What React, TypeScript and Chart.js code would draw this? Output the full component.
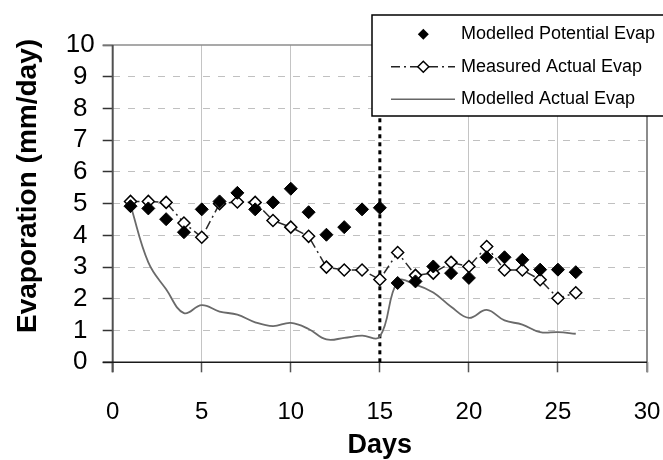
import React, { useEffect, useRef } from "react";
import { Chart, registerables } from "chart.js";

Chart.register(...registerables);

const days = [1, 2, 3, 4, 5, 6, 7, 8, 9, 10, 11, 12, 13, 14, 15, 16, 17, 18, 19, 20, 21, 22, 23, 24, 25, 26];
const modelledPotential = [4.92, 4.85, 4.51, 4.1, 4.82, 5.07, 5.34, 4.82, 5.04, 5.47, 4.73, 4.02, 4.26, 4.82, 4.87, 2.5, 2.55, 3.02, 2.81, 2.66, 3.31, 3.31, 3.23, 2.92, 2.92, 2.84];
const measuredActual = [5.07, 5.07, 5.04, 4.39, 3.94, 5.0, 5.05, 5.04, 4.47, 4.26, 3.97, 3.0, 2.91, 2.91, 2.61, 3.46, 2.74, 2.81, 3.15, 3.02, 3.65, 2.91, 2.91, 2.6, 2.02, 2.19];
const modelledActual = [4.95, 3.15, 2.3, 1.55, 1.8, 1.6, 1.5, 1.26, 1.14, 1.24, 1.05, 0.72, 0.77, 0.84, 0.81, 2.55, 2.45, 2.2, 1.75, 1.4, 1.65, 1.32, 1.19, 0.95, 0.95, 0.9];
const cutoffDay = 15;
const yMin = 0;
const yMax = 10;
const xMin = 0;
const xMax = 30;
const seriesNames = ["Modelled Potential Evap", "Measured Actual Evap", "Modelled Actual Evap"];
const xTitle = "Days";
const yTitle = "Evaporation (mm/day)";

const FONT = "'Liberation Sans', Arial, sans-serif";

const pts = (vals: number[]) => vals.map((v, i) => ({ x: days[i], y: v }));

const framePlugin = {
  id: "frame",
  beforeDatasetsDraw(chart: any) {
    const { ctx, scales } = chart;
    const x = scales.x;
    const y = scales.y;
    ctx.save();
    // top line (y=10)
    ctx.strokeStyle = "#8c8c8c";
    ctx.lineWidth = 1.5;
    ctx.beginPath();
    ctx.moveTo(x.getPixelForValue(xMin) - 10, y.getPixelForValue(yMax));
    ctx.lineTo(x.getPixelForValue(xMax), y.getPixelForValue(yMax));
    ctx.stroke();
    // right line (x=30)
    ctx.lineWidth = 2;
    ctx.beginPath();
    ctx.moveTo(x.getPixelForValue(xMax), y.getPixelForValue(yMax));
    ctx.lineTo(x.getPixelForValue(xMax), y.getPixelForValue(yMin) + 10);
    ctx.stroke();
    // left axis
    ctx.strokeStyle = "#505050";
    ctx.lineWidth = 2;
    ctx.beginPath();
    ctx.moveTo(x.getPixelForValue(xMin), y.getPixelForValue(yMax));
    ctx.lineTo(x.getPixelForValue(xMin), y.getPixelForValue(yMin) + 10);
    ctx.stroke();
    // bottom axis
    ctx.strokeStyle = "#1a1a1a";
    ctx.lineWidth = 1.5;
    ctx.beginPath();
    ctx.moveTo(x.getPixelForValue(xMin) - 10, y.getPixelForValue(yMin));
    ctx.lineTo(x.getPixelForValue(xMax), y.getPixelForValue(yMin));
    ctx.stroke();
    ctx.restore();
  },
  afterDraw(chart: any) {
    const { ctx, chartArea: a } = chart;
    ctx.save();
    // axis titles
    ctx.fillStyle = "#000";
    ctx.font = `bold 27px ${FONT}`;
    ctx.textAlign = "center";
    ctx.textBaseline = "middle";
    ctx.fillText(xTitle, (a.left + a.right) / 2, 446);
    ctx.font = `bold 28px ${FONT}`;
    ctx.translate(28, 186);
    ctx.rotate(-Math.PI / 2);
    ctx.fillText(yTitle, 0, 0);
    ctx.restore();

    // legend
    ctx.save();
    const lx = 372, ly = 15, lw = 300, lh = 101;
    ctx.fillStyle = "#fff";
    ctx.fillRect(lx, ly, lw, lh);
    ctx.strokeStyle = "#000";
    ctx.lineWidth = 1.5;
    ctx.strokeRect(lx, ly, lw, lh);
    const rows = [34.3, 66.7, 99.3];
    const sx0 = 391, sx1 = 455, sc = 423.3;
    // row 1: filled diamond
    ctx.fillStyle = "#000";
    ctx.beginPath();
    ctx.moveTo(sc - 5.5, rows[0]);
    ctx.lineTo(sc, rows[0] - 5.5);
    ctx.lineTo(sc + 5.5, rows[0]);
    ctx.lineTo(sc, rows[0] + 5.5);
    ctx.closePath();
    ctx.fill();
    // row 2: dash-dot with open diamond
    ctx.strokeStyle = "#222";
    ctx.lineWidth = 1.5;
    ctx.setLineDash([9, 4, 2, 4]);
    ctx.beginPath();
    ctx.moveTo(sx0, rows[1]);
    ctx.lineTo(sx1, rows[1]);
    ctx.stroke();
    ctx.setLineDash([]);
    ctx.fillStyle = "#fff";
    ctx.strokeStyle = "#000";
    ctx.beginPath();
    ctx.moveTo(sc - 5.5, rows[1]);
    ctx.lineTo(sc, rows[1] - 5.5);
    ctx.lineTo(sc + 5.5, rows[1]);
    ctx.lineTo(sc, rows[1] + 5.5);
    ctx.closePath();
    ctx.fill();
    ctx.stroke();
    // row 3: solid gray line
    ctx.strokeStyle = "#666";
    ctx.lineWidth = 1.5;
    ctx.beginPath();
    ctx.moveTo(sx0, rows[2]);
    ctx.lineTo(sx1, rows[2]);
    ctx.stroke();
    // texts
    ctx.fillStyle = "#000";
    ctx.font = `18px ${FONT}`;
    ctx.textAlign = "left";
    ctx.textBaseline = "middle";
    ctx.fillText(seriesNames[0], 461, rows[0]);
    ctx.fillText(seriesNames[1], 461, rows[1]);
    ctx.fillText(seriesNames[2], 461, rows[2]);
    ctx.restore();
  },
};

export default function App() {
  const ref = useRef<HTMLCanvasElement | null>(null);
  useEffect(() => {
    if (!ref.current) return;
    const chart = new Chart(ref.current, {
      type: "line",
      data: {
        datasets: [
          {
            label: seriesNames[0],
            data: pts(modelledPotential),
            showLine: false,
            pointStyle: "rectRot",
            pointRadius: 6.5,
            pointBackgroundColor: "#000",
            pointBorderColor: "#000",
            pointBorderWidth: 1,
            order: 1,
          },
          {
            label: seriesNames[1],
            data: pts(measuredActual),
            borderColor: "#2a2a2a",
            borderWidth: 1.5,
            borderDash: [9, 4, 2, 4],
            tension: 0,
            pointStyle: "rectRot",
            pointRadius: 6,
            pointBackgroundColor: "#fff",
            pointBorderColor: "#000",
            pointBorderWidth: 1.5,
            order: 2,
          },
          {
            label: seriesNames[2],
            data: pts(modelledActual),
            borderColor: "#6a6a6a",
            borderWidth: 1.8,
            tension: 0.4,
            pointRadius: 0,
            order: 3,
          },
          {
            label: "cutoff",
            data: [
              { x: cutoffDay, y: yMin },
              { x: cutoffDay, y: yMax },
            ],
            borderColor: "#000",
            borderWidth: 3,
            borderDash: [4, 4],
            pointRadius: 0,
            order: 4,
          },
        ],
      },
      options: {
        responsive: false,
        animation: false,
        layout: { padding: { left: 0, top: 45, right: 16, bottom: 0 } },
        plugins: { legend: { display: false }, tooltip: { enabled: false } },
        scales: {
          x: {
            type: "linear",
            min: xMin,
            max: xMax,
            afterFit: (s: any) => {
              s.height = 97.7;
              s.paddingLeft = 0;
              s.paddingRight = 0;
            },
            ticks: {
              stepSize: 5,
              color: "#000",
              font: { family: FONT, size: 24 },
              padding: 26,
              maxRotation: 0,
              autoSkip: false,
            },
            grid: {
              color: (c: any) => {
                const v = c.tick ? c.tick.value : null;
                if (v === xMin || v === cutoffDay || v === xMax) return "rgba(0,0,0,0)";
                return "#c4c4c4";
              },
              lineWidth: 1,
              tickColor: "#555",
              tickLength: 10,
              tickWidth: 1.5,
            },
            border: { display: false },
          },
          y: {
            type: "linear",
            min: yMin,
            max: yMax,
            afterFit: (s: any) => {
              s.width = 112.7;
            },
            ticks: {
              stepSize: 1,
              color: "#000",
              font: { family: FONT, size: 26 },
              padding: 8,
              crossAlign: "center",
              autoSkip: false,
            },
            grid: {
              color: (c: any) => {
                const v = c.tick ? c.tick.value : null;
                if (v === yMin || v === yMax) return "rgba(0,0,0,0)";
                return "#c0c0c0";
              },
              lineWidth: 1,
              tickColor: "#333",
              tickLength: 10,
              tickWidth: 1.5,
            },
            border: { display: false, dash: [7, 8] },
          },
        },
      },
      plugins: [framePlugin],
    });
    return () => chart.destroy();
  }, []);
  return (
    <div style={{ position: "absolute", left: 0, top: 0, width: 663, height: 460, background: "#fff" }}>
      <canvas ref={ref} width={663} height={460} style={{ width: 663, height: 460, display: "block" }} />
    </div>
  );
}
